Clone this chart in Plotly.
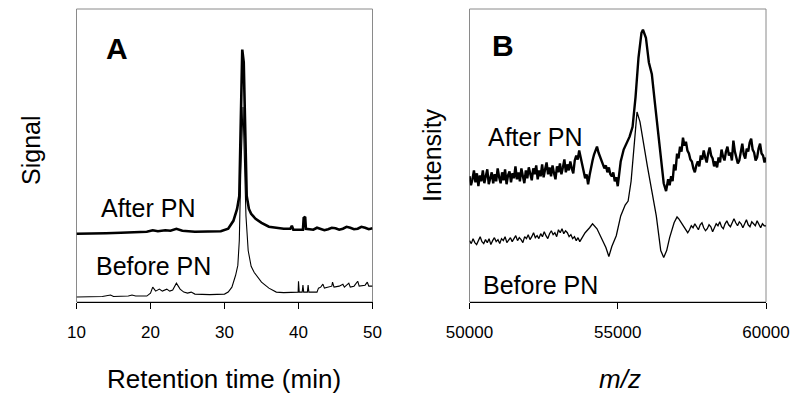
import plotly.graph_objects as go

# ---------- Panel A: chromatograms (retention time, min) ----------
a_after_x = [10.0, 12, 14, 16, 18, 19.5, 20.3, 21, 22, 22.7, 23.5, 24.3, 26, 28, 29.5, 30.5, 31.2, 31.7,
             32.0, 32.2, 32.4, 32.6, 32.8, 33.0, 33.3, 33.6, 34.2, 35, 36, 37, 38, 38.9, 39.1, 39.3, 40,
             40.6, 40.7, 40.9, 41.0, 42, 42.5, 43, 43.5, 44, 44.5, 45, 45.5, 46, 46.5, 47, 47.5, 48, 48.5,
             49, 49.5, 50]
a_after_y = [69, 69, 69.5, 70, 70.5, 71, 72.5, 71.5, 72.5, 72, 74, 72, 71, 71, 71.5, 74, 82, 94,
             107, 182, 255, 242, 162, 107, 94, 89, 84, 80, 76, 75, 74, 74, 77, 73, 73,
             73, 85, 86, 74, 73, 75, 74, 72.5, 73.5, 75, 74.5, 73, 74, 76, 75, 73.5, 74, 76,
             75, 73.5, 74.5]

a_before_x = [10, 12, 13.5, 14.6, 15, 17, 17.5, 18, 19.5, 20.0, 20.3, 20.7, 21.2, 21.6, 22.2, 22.6, 23.0,
              23.5, 24.0, 24.5, 25, 25.5, 26, 28, 30, 30.5, 31.0, 31.5, 31.8, 32.0, 32.2, 32.5, 32.7,
              32.9, 33.2, 33.6, 34.0, 35.0, 36.0, 37, 38, 39, 39.5, 39.95, 40.0, 40.1, 40.5, 40.6, 40.7,
              41.2, 41.3, 41.4, 42.5, 42.7, 43, 43.3, 43.5, 44, 44.5, 44.6, 44.8, 45.5, 46, 46.2, 46.8,
              47, 47.5, 48, 48.2, 49, 49.3, 49.5, 50]
a_before_y = [5, 5, 5.5, 7, 5.5, 6, 7, 6, 6, 9, 15, 11, 13, 11, 13, 11, 12,
              19, 13, 10, 9, 10, 8, 7.5, 8, 10, 15, 27, 37, 62, 132, 197, 152,
              87, 52, 36, 30, 20, 14, 10, 9.5, 10, 10, 10, 21, 10, 10, 17, 10,
              10, 17, 10, 10, 14, 15, 18, 14, 15, 16, 20, 15, 16, 18, 15, 19,
              15, 16, 21, 16, 17, 20, 16, 16]

# ---------- Panel B: mass spectra (m/z) ----------
b_after_x = (list(range(50000, 55001, 50))
             + [55100, 55200, 55300, 55400, 55500, 55600, 55700, 55800, 55850, 55950, 56050, 56150,
                56250, 56350, 56450, 56550, 56630, 56700, 56750, 56800, 56850]
             + list(range(56900, 60001, 50)))
b_after_y = [127, 118, 124, 133, 121, 130, 117, 128, 122, 133, 120, 128, 134, 119, 125, 131, 120, 129,
             122, 135, 126, 120, 131, 123, 134, 119, 128, 132, 121, 130, 125, 137, 124, 131, 122, 135,
             127, 120, 133, 125, 136, 128, 123, 135, 129, 138, 124, 133, 127, 139, 126, 134, 141, 129,
             136, 127, 138, 130, 124, 137, 131, 140, 129, 136, 144, 131, 139, 133, 142, 135, 130, 143,
             148, 144, 153, 146, 138, 131, 125, 129, 119, 128, 137, 143, 149, 153, 157, 151, 147, 142,
             139, 135, 138, 131, 136, 129, 127, 131, 122, 126, 117,
             142, 154, 160, 167, 177, 207, 247, 272, 275, 267, 242, 230,
             202, 174, 142, 120, 112, 124, 118, 127, 122,
             139, 133, 150, 145, 157, 152, 166, 158, 162, 153, 150, 144, 142, 135, 131, 138, 142, 137,
             148, 144, 153, 146, 141, 150, 156, 148, 145, 137, 142, 136, 146, 141, 154, 147, 143, 152,
             157, 148, 151, 143, 163, 152, 147, 140, 143, 152, 160, 149, 145, 155, 152, 161, 165, 154,
             151, 143, 146, 155, 160, 150, 148, 141, 146]

b_before_x = (list(range(50000, 53901, 60))
              + [54050, 54150, 54300, 54450, 54600, 54700, 54800, 54950, 55100, 55250, 55350, 55450,
                 55550, 55650, 55750, 55850, 56000, 56150, 56300, 56450, 56550, 56650, 56750, 56900]
              + list(range(57000, 60001, 60)))
b_before_y = [62, 59, 64, 60, 58, 63, 66, 61, 59, 63, 60, 64, 58, 62, 65, 61, 63, 59, 64, 62,
              66, 60, 63, 65, 61, 64, 67, 62, 65, 63, 60, 66, 64, 68, 63, 66, 70, 65, 67, 64,
              69, 66, 71, 67, 64, 69, 72, 68, 70, 66, 73, 70, 74, 69, 72, 70, 66, 68, 64, 66,
              62, 65, 61, 64, 67, 70,
              75, 79, 74, 65, 55, 46, 56, 67, 87, 98, 102, 122,
              162, 192, 182, 162, 137, 112, 87, 52, 45, 52, 65, 80,
              86, 84, 81, 78, 75, 72, 70, 73, 77, 75, 79, 76, 73, 78, 80, 75, 72, 74, 78, 76,
              71, 75, 79, 77, 81, 76, 74, 79, 82, 78, 76, 80, 84, 80, 77, 81, 79, 75, 80, 83,
              78, 76, 81, 79, 77, 82, 78, 75, 79, 77, 77]

a_ticks = [10, 20, 30, 40, 50]
b_ticks = [50000, 55000, 60000]

FONT = "Liberation Sans, Arial, sans-serif"
# page body has an 8px margin: the figure occupies page pixels 8..800 x 8..401
OFF = 8
W, H = 800 - OFF, 401 - OFF

def px(x):
    return (x - OFF) / W

def py(y):
    return 1 - (y - OFF) / H

fig = go.Figure()
fig.add_trace(go.Scatter(x=a_after_x, y=a_after_y, mode="lines", line=dict(color="black", width=2.6),
                         xaxis="x", yaxis="y", showlegend=False))
fig.add_trace(go.Scatter(x=a_before_x, y=a_before_y, mode="lines", line=dict(color="black", width=1.1),
                         xaxis="x", yaxis="y", showlegend=False))
fig.add_trace(go.Scatter(x=b_after_x, y=b_after_y, mode="lines", line=dict(color="black", width=2.4),
                         xaxis="x2", yaxis="y2", showlegend=False))
fig.add_trace(go.Scatter(x=b_before_x, y=b_before_y, mode="lines", line=dict(color="black", width=1.3),
                         xaxis="x2", yaxis="y2", showlegend=False))

ydom = [py(302), py(9)]
xdomA = [px(76.5), px(372.5)]
xdomB = [px(469.5), px(766)]

common_x = dict(showgrid=False, zeroline=False, showline=True, linecolor="black", linewidth=1,
                ticks="outside", ticklen=6, tickcolor="black", tickwidth=1, automargin=False,
                tickfont=dict(family=FONT, size=17, color="black"), ticklabelstandoff=9)
common_y = dict(showgrid=False, zeroline=False, showline=False, showticklabels=False, ticks="",
                range=[0, 296], automargin=False)

fig.update_layout(
    width=W, height=H, autosize=False,
    margin=dict(l=0, r=0, t=0, b=0, pad=0, autoexpand=False),
    paper_bgcolor="white", plot_bgcolor="white",
    xaxis=dict(domain=xdomA, range=[10, 50], tickvals=a_ticks, anchor="y", **common_x),
    yaxis=dict(domain=ydom, anchor="x", **common_y),
    xaxis2=dict(domain=xdomB, range=[50000, 60000], tickvals=b_ticks, ticktext=[str(t) for t in b_ticks],
                anchor="y2", **common_x),
    yaxis2=dict(domain=ydom, anchor="x2", **common_y),
)

# grey frames
for xr, yr in [("x domain", "y domain"), ("x2 domain", "y2 domain")]:
    fig.add_shape(type="rect", xref=xr, yref=yr, x0=0, x1=1, y0=0, y1=1,
                  line=dict(color="#8a8a8a", width=1), layer="below")

def ann(text, x, y, size, bold=False, italic=False, angle=0):
    t = text
    if bold:
        t = "<b>" + t + "</b>"
    if italic:
        t = "<i>" + t + "</i>"
    fig.add_annotation(text=t, x=px(x), y=py(y), xref="paper", yref="paper",
                       showarrow=False, xanchor="center", yanchor="middle", textangle=angle,
                       font=dict(family=FONT, size=size, color="black"))

ann("A", 117, 48, 30, bold=True)
ann("B", 503, 46, 30, bold=True)
ann("After PN", 148, 208, 25)
ann("Before PN", 153, 266, 25)
ann("After PN", 535, 137, 25)
ann("Before PN", 540, 285, 25)
ann("Retention time (min)", 224, 379, 26)
ann("m/z", 620, 379, 26, italic=True)
ann("Signal", 31, 150, 25, angle=-90)
ann("Intensity", 432, 155, 25, angle=-90)

fig.write_html("out.html")
